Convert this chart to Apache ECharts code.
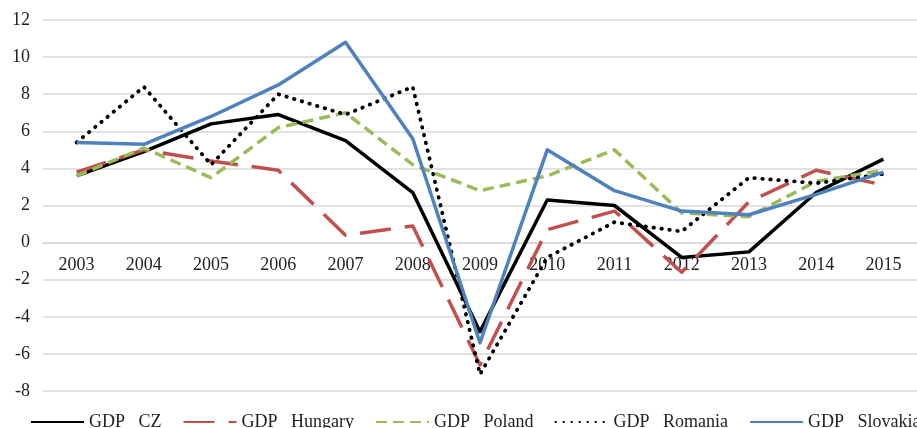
<!DOCTYPE html>
<html><head><meta charset="utf-8">
<script src="https://cdn.jsdelivr.net/npm/echarts@6/dist/echarts.min.js"></script>
<style>html,body{margin:0;padding:0;background:#fff}#c{width:917px;height:428px}</style>
</head><body><div id="c"></div>
<script>
const years = ['2003','2004','2005','2006','2007','2008','2009','2010','2011','2012','2013','2014','2015'];
const gdpCZ       = [3.6, 4.9, 6.4, 6.9, 5.5, 2.7, -4.8, 2.3, 2.0, -0.8, -0.5, 2.7, 4.5];
const gdpHungary  = [3.8, 5.0, 4.4, 3.9, 0.4, 0.9, -6.6, 0.7, 1.7, -1.6, 2.2, 3.9, 3.1];
const gdpPoland   = [3.6, 5.1, 3.5, 6.2, 7.0, 4.2, 2.8, 3.6, 5.0, 1.6, 1.4, 3.3, 3.9];
const gdpRomania  = [5.4, 8.4, 4.2, 8.0, 6.9, 8.4, -7.1, -0.8, 1.1, 0.6, 3.5, 3.2, 3.7];
const gdpSlovakia = [5.4, 5.3, 6.8, 8.5, 10.8, 5.6, -5.4, 5.0, 2.8, 1.7, 1.5, 2.6, 3.8];
const seriesNames = ['GDP   CZ','GDP   Hungary','GDP   Poland','GDP   Romania','GDP   Slovakia'];
const yMin = -8, yMax = 12;

const font = 'Liberation Serif';
const chart = echarts.init(document.getElementById('c'));
const gridTop = 20, gridBottom = 37;
const plotH = 428 - gridTop - gridBottom;
const zeroOffset = -plotH * (0 - yMin) / (yMax - yMin);
function s(name, data, color, type, width, cap) {
  return { name, type: 'line', data, symbol: 'none', smooth: false,
    lineStyle: { color, width, type, cap: cap || 'butt', join: 'round' },
    itemStyle: { color }, z: 3 };
}
chart.setOption({
  animation: false,
  grid: { left: 43, right: -5, top: gridTop, bottom: gridBottom },
  legend: {
    left: 25, top: 408, width: 1100, itemWidth: 53, itemHeight: 10, itemGap: 21,
    itemStyle: { opacity: 0 },
    textStyle: { fontFamily: font, fontSize: 18, color: '#222' },
    data: seriesNames
  },
  xAxis: {
    type: 'category', data: years, boundaryGap: true, position: 'bottom',
    offset: zeroOffset,
    axisLine: { onZero: false, lineStyle: { color: '#d9d9d9', width: 1.5 } },
    axisTick: { show: false },
    axisLabel: { fontFamily: font, fontSize: 18, color: '#222', margin: 14 }
  },
  yAxis: {
    type: 'value', min: yMin, max: yMax, interval: 2,
    axisLine: { show: false }, axisTick: { show: false },
    splitLine: { lineStyle: { color: '#d9d9d9', width: 1.5 } },
    axisLabel: { fontFamily: font, fontSize: 18, color: '#222', margin: 13 }
  },
  series: [
    s(seriesNames[0], gdpCZ, '#000000', 'solid', 3.5),
    s(seriesNames[1], gdpHungary, '#c0504d', [31, 14], 3.5),
    s(seriesNames[2], gdpPoland, '#9bbb59', [11, 6], 3.5),
    s(seriesNames[3], gdpRomania, '#000000', [0.5, 7.5], 3.8, 'round'),
    s(seriesNames[4], gdpSlovakia, '#4f81bd', 'solid', 3.5)
  ]
});
</script></body></html>
